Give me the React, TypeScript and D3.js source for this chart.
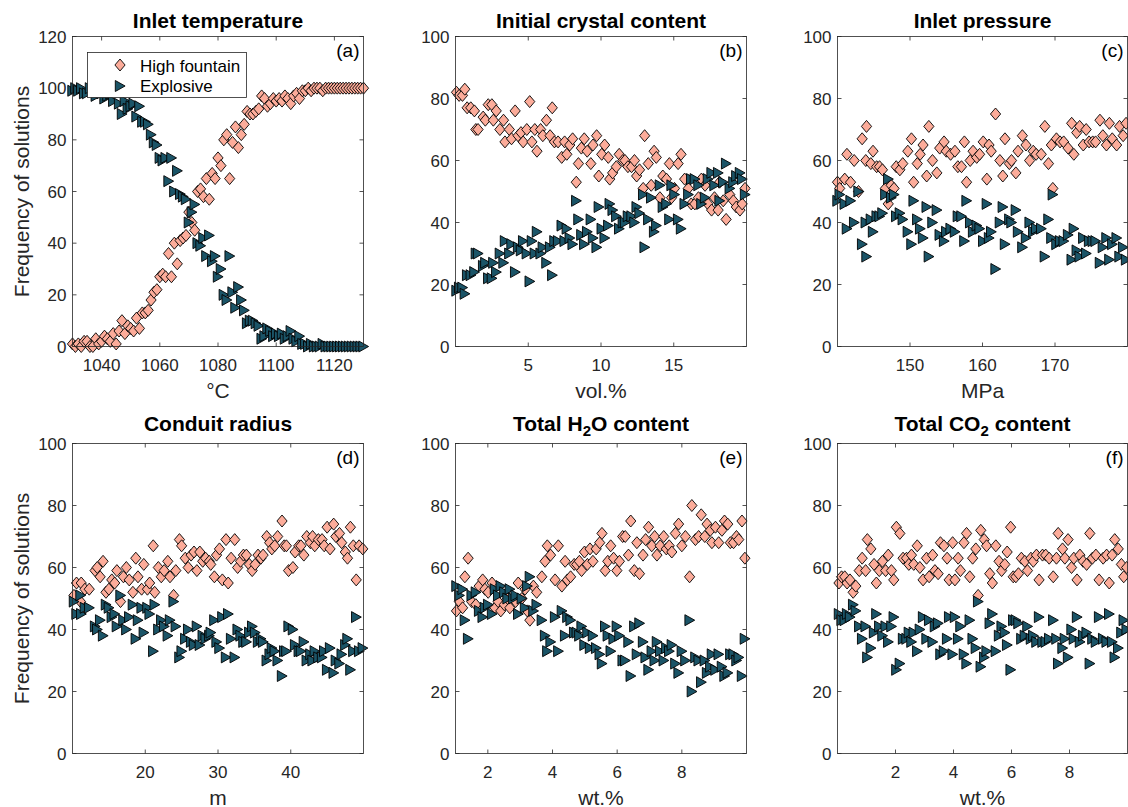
import React from 'react';
import * as d3 from 'd3';

// (a) Inlet temperature, °C
const tempX = [
  1030, 1031, 1032, 1033, 1034, 1035, 1036, 1037, 1038, 1039,
  1040, 1041, 1042, 1043, 1044, 1045, 1046, 1047, 1048, 1049,
  1050, 1051, 1052, 1053, 1054, 1055, 1056, 1057, 1058, 1059,
  1060, 1061, 1062, 1063, 1064, 1065, 1066, 1067, 1068, 1069,
  1070, 1071, 1072, 1073, 1074, 1075, 1076, 1077, 1078, 1079,
  1080, 1081, 1082, 1083, 1084, 1085, 1086, 1087, 1088, 1089,
  1090, 1091, 1092, 1093, 1094, 1095, 1096, 1097, 1098, 1099,
  1100, 1101, 1102, 1103, 1104, 1105, 1106, 1107, 1108, 1109,
  1110, 1111, 1112, 1113, 1114, 1115, 1116, 1117, 1118, 1119,
  1120, 1121, 1122, 1123, 1124, 1125, 1126, 1127, 1128, 1129,
  1130,
];
const tempFountain = [
  1, 0, 1, 0, 2, 2, 0, 0, 3, 1,
  2, 4, 3, 2, 5, 1, 6, 10, 5, 8,
  7, 6, 11, 7, 13, 13, 14, 18, 21, 22,
  27, 28, 27, 36, 27, 40, 32, 41, 42, 43,
  52, 48, 45, 60, 61, 58, 65, 57, 67, 65,
  73, 70, 80, 82, 65, 79, 85, 77, 82, 86,
  91, 90, 90, 91, 92, 97, 96, 93, 94, 96,
  95, 96, 95, 97, 96, 94, 97, 98, 96, 99,
  99, 100, 99, 100, 100, 100, 99, 100, 100, 100,
  100, 100, 100, 100, 100, 100, 100, 100, 100, 100,
  100,
];
const tempExplosive = [
  99, 100, 99, 100, 98, 98, 100, 100, 97, 99,
  98, 96, 97, 98, 95, 99, 94, 90, 95, 92,
  93, 94, 89, 93, 87, 87, 86, 82, 79, 78,
  73, 72, 73, 64, 73, 60, 68, 59, 58, 57,
  48, 52, 55, 40, 39, 42, 35, 43, 33, 35,
  27, 30, 20, 18, 35, 21, 15, 23, 18, 14,
  9, 10, 10, 9, 8, 3, 4, 7, 6, 4,
  5, 4, 5, 3, 4, 6, 3, 2, 4, 1,
  1, 0, 1, 0, 0, 0, 1, 0, 0, 0,
  0, 0, 0, 0, 0, 0, 0, 0, 0, 0,
  0,
];

// (b) Initial crystal content, vol.%
const crystalX = [
  0.07, 0.25, 0.48, 0.64, 0.8, 1.05, 1.3, 1.4, 1.55, 1.9,
  2.05, 2.25, 2.5, 2.6, 2.8, 3.05, 3.3, 3.4, 3.7, 3.85,
  4.1, 4.3, 4.5, 4.65, 4.9, 5.1, 5.25, 5.45, 5.6, 5.85,
  6.0, 6.25, 6.5, 6.65, 6.8, 7.05, 7.3, 7.5, 7.65, 7.85,
  8.05, 8.3, 8.45, 8.65, 8.85, 9.05, 9.3, 9.45, 9.7, 9.85,
  10.05, 10.25, 10.5, 10.6, 10.8, 11.05, 11.25, 11.5, 11.65, 11.85,
  12.1, 12.3, 12.45, 12.65, 12.9, 13.0, 13.25, 13.45, 13.65, 13.8,
  14.05, 14.25, 14.5, 14.7, 14.85, 15.05, 15.3, 15.5, 15.75, 16.0,
  16.2, 16.45, 16.7, 16.9, 17.15, 17.35, 17.6, 17.8, 18.05, 18.15,
  18.4, 18.6, 18.85, 19.1, 19.3, 19.55, 19.7, 19.9,
];
const crystalFountain = [
  82, 81, 81, 83, 77, 77, 76, 70, 70, 74,
  73, 78, 78, 73, 76, 70, 73, 66, 70, 67,
  76, 68, 69, 66, 70, 79, 66, 70, 63, 70,
  68, 73, 68, 77, 66, 66, 61, 66, 62, 65,
  67, 53, 59, 64, 67, 63, 59, 65, 68, 55,
  62, 65, 61, 54, 56, 58, 62, 60, 60, 58,
  58, 60, 55, 57, 51, 68, 59, 52, 63, 61,
  48, 55, 54, 59, 48, 51, 59, 62, 54, 51,
  46, 46, 48, 54, 52, 46, 44, 48, 44, 53,
  47, 41, 49, 47, 45, 44, 46, 51,
];
const crystalExplosive = [
  18, 19, 19, 17, 23, 23, 24, 30, 30, 26,
  27, 22, 22, 27, 24, 30, 27, 34, 30, 33,
  24, 32, 31, 34, 30, 21, 34, 30, 37, 30,
  32, 27, 32, 23, 34, 34, 39, 34, 38, 35,
  33, 47, 41, 36, 33, 37, 41, 35, 32, 45,
  38, 35, 39, 46, 44, 42, 38, 40, 40, 42,
  42, 40, 45, 43, 49, 32, 41, 48, 37, 39,
  52, 45, 46, 41, 52, 49, 41, 38, 46, 49,
  54, 54, 52, 46, 48, 54, 56, 52, 56, 47,
  53, 59, 51, 53, 55, 56, 54, 49,
];

// (c) Inlet pressure, MPa
const pressureX = [
  140.0, 140.3, 141.0, 141.3, 141.8, 142.3, 142.9, 143.4, 143.9, 144.0,
  144.6, 144.9, 145.4, 145.8, 146.2, 146.6, 147.0, 147.4, 147.8, 148.1,
  148.6, 149.0, 149.7, 150.2, 150.5, 151.0, 151.4, 151.8, 152.3, 152.6,
  153.1, 153.7, 154.1, 154.7, 155.0, 155.6, 156.2, 156.6, 157.1, 157.5,
  157.8, 158.3, 158.7, 159.2, 159.6, 160.1, 160.6, 160.9, 161.2, 161.8,
  162.4, 162.8, 163.1, 163.7, 164.0, 164.6, 164.9, 165.5, 166.0, 166.5,
  167.0, 167.4, 168.1, 168.6, 169.1, 169.5, 169.7, 170.2, 170.7, 171.2,
  171.8, 172.3, 172.6, 173.0, 173.4, 173.9, 174.3, 174.7, 175.2, 175.6,
  176.2, 176.6, 177.1, 177.5, 177.9, 178.5, 178.9, 179.4, 179.8,
];
const pressureFountain = [
  53, 51, 54, 62, 53, 60, 50, 67, 60, 71,
  59, 63, 58, 58, 57, 51, 46, 52, 51, 58,
  57, 59, 63, 67, 53, 59, 62, 65, 55, 71,
  60, 56, 64, 66, 63, 62, 63, 58, 58, 66,
  53, 60, 63, 61, 62, 66, 54, 65, 63, 75,
  60, 55, 67, 59, 60, 56, 63, 68, 65, 60,
  63, 62, 62, 71, 59, 65, 51, 67, 66, 66,
  64, 72, 62, 69, 71, 65, 70, 66, 66, 66,
  73, 68, 65, 72, 67, 65, 71, 68, 72,
];
const pressureExplosive = [
  47, 49, 46, 38, 47, 40, 50, 33, 40, 29,
  41, 37, 42, 42, 43, 49, 54, 48, 49, 42,
  43, 41, 37, 33, 47, 41, 38, 35, 45, 29,
  40, 44, 36, 34, 37, 38, 37, 42, 42, 34,
  47, 40, 37, 39, 38, 34, 46, 35, 37, 25,
  40, 45, 33, 41, 40, 44, 37, 32, 35, 40,
  37, 38, 38, 29, 41, 35, 49, 33, 34, 34,
  36, 28, 38, 31, 29, 35, 30, 34, 34, 34,
  27, 32, 35, 28, 33, 35, 29, 32, 28,
];

// (d) Conduit radius, m
const radiusX = [
  10.2, 10.55, 11.1, 11.2, 11.7, 12.3, 13.1, 13.4, 13.8, 14.2,
  14.6, 15.0, 15.4, 15.8, 16.1, 16.6, 17.0, 17.4, 17.8, 18.3,
  18.7, 19.0, 19.5, 19.8, 20.3, 20.6, 21.1, 21.3, 21.8, 22.2,
  22.6, 23.1, 23.4, 23.9, 24.2, 24.7, 25.0, 25.5, 25.9, 26.3,
  26.7, 27.1, 27.5, 27.9, 28.3, 28.8, 29.0, 29.5, 29.8, 30.2,
  30.6, 31.1, 31.4, 31.8, 32.3, 32.7, 33.1, 33.5, 33.9, 34.3,
  34.7, 35.1, 35.5, 35.9, 36.2, 36.7, 37.1, 37.4, 37.8, 38.2,
  38.8, 39.1, 39.4, 39.7, 40.3, 40.6, 41.1, 41.4, 41.8, 42.2,
  42.7, 43.0, 43.3, 43.8, 44.3, 44.6, 45.0, 45.4, 45.9, 46.2,
  46.7, 47.0, 47.5, 47.8, 48.2, 48.6, 49.0, 49.4, 49.9,
];
const radiusFountain = [
  51, 55, 49, 55, 53, 53, 59, 60, 57, 62,
  52, 53, 56, 55, 59, 49, 57, 60, 56, 52,
  63, 57, 53, 61, 53, 55, 67, 52, 60, 57,
  59, 62, 57, 51, 59, 69, 67, 63, 60, 64,
  65, 59, 65, 62, 63, 62, 61, 57, 64, 66,
  56, 69, 55, 63, 69, 60, 62, 64, 64, 61,
  59, 61, 64, 63, 64, 70, 68, 66, 67, 70,
  75, 67, 67, 59, 60, 65, 67, 67, 64, 70,
  68, 70, 67, 69, 69, 67, 73, 66, 74, 70,
  71, 68, 65, 63, 73, 67, 56, 67, 66,
];
const radiusExplosive = [
  49, 45, 51, 45, 47, 47, 41, 40, 43, 38,
  48, 47, 44, 45, 41, 51, 43, 40, 44, 48,
  37, 43, 47, 39, 47, 45, 33, 48, 40, 43,
  41, 38, 43, 49, 41, 31, 33, 37, 40, 36,
  35, 41, 35, 38, 37, 38, 39, 43, 36, 34,
  44, 31, 45, 37, 31, 40, 38, 36, 36, 39,
  41, 39, 36, 37, 36, 30, 32, 34, 33, 30,
  25, 33, 33, 41, 40, 35, 33, 33, 36, 30,
  32, 30, 33, 31, 31, 33, 27, 34, 26, 30,
  29, 32, 35, 37, 27, 33, 44, 33, 34,
];

// (e) Total H2O content, wt.%
const waterX = [
  1.03, 1.12, 1.22, 1.29, 1.39, 1.5, 1.63, 1.73, 1.84, 1.91,
  2.01, 2.13, 2.22, 2.32, 2.4, 2.51, 2.61, 2.68, 2.79, 2.86,
  2.94, 3.05, 3.15, 3.22, 3.3, 3.41, 3.51, 3.67, 3.77, 3.84,
  3.94, 4.08, 4.18, 4.29, 4.39, 4.46, 4.56, 4.67, 4.75, 4.83,
  4.9, 4.99, 5.08, 5.16, 5.25, 5.35, 5.46, 5.53, 5.63, 5.71,
  5.8, 5.89, 5.99, 6.07, 6.17, 6.25, 6.35, 6.42, 6.53, 6.61,
  6.69, 6.8, 6.88, 6.97, 7.07, 7.16, 7.23, 7.33, 7.44, 7.52,
  7.61, 7.69, 7.8, 7.9, 8.0, 8.11, 8.24, 8.31, 8.42, 8.52,
  8.6, 8.71, 8.78, 8.88, 8.93, 9.04, 9.14, 9.24, 9.32, 9.42,
  9.5, 9.6, 9.69, 9.76, 9.86, 9.95,
];
const waterFountain = [
  46, 49, 47, 57, 63, 49, 48, 54, 56, 53,
  52, 55, 47, 49, 46, 48, 50, 47, 50, 49,
  55, 50, 53, 46, 43, 54, 52, 57, 62, 67,
  64, 56, 67, 54, 62, 56, 57, 61, 61, 62,
  59, 65, 61, 66, 62, 66, 68, 71, 59, 62,
  67, 63, 59, 62, 70, 70, 64, 75, 59, 68,
  58, 64, 69, 73, 67, 70, 64, 67, 70, 66,
  67, 65, 71, 74, 67, 70, 57, 80, 69, 70,
  77, 70, 74, 72, 68, 73, 68, 72, 75, 74,
  68, 68, 70, 69, 75, 63,
];
const waterExplosive = [
  54, 51, 53, 43, 37, 51, 52, 46, 44, 47,
  48, 45, 53, 51, 54, 52, 50, 53, 50, 51,
  45, 50, 47, 54, 57, 46, 48, 43, 38, 33,
  36, 44, 33, 46, 38, 44, 43, 39, 39, 38,
  41, 35, 39, 34, 38, 34, 32, 29, 41, 38,
  33, 37, 41, 38, 30, 30, 36, 25, 41, 32,
  42, 36, 31, 27, 33, 30, 36, 33, 30, 34,
  33, 35, 29, 26, 33, 30, 43, 20, 31, 30,
  23, 30, 26, 28, 32, 27, 32, 28, 25, 26,
  32, 32, 30, 31, 25, 37,
];

// (f) Total CO2 content, wt.%
const carbonX = [
  0.05, 0.14, 0.25, 0.33, 0.43, 0.54, 0.63, 0.75, 0.85, 0.97,
  1.03, 1.15, 1.26, 1.34, 1.44, 1.55, 1.66, 1.75, 1.86, 1.94,
  2.03, 2.15, 2.26, 2.38, 2.46, 2.55, 2.63, 2.75, 2.84, 2.95,
  3.07, 3.16, 3.28, 3.36, 3.47, 3.55, 3.67, 3.78, 3.85, 3.97,
  4.05, 4.16, 4.24, 4.36, 4.45, 4.56, 4.66, 4.77, 4.85, 4.94,
  5.06, 5.14, 5.25, 5.34, 5.46, 5.57, 5.66, 5.77, 5.85, 5.97,
  6.06, 6.15, 6.24, 6.34, 6.46, 6.55, 6.67, 6.75, 6.86, 6.95,
  7.07, 7.18, 7.3, 7.44, 7.55, 7.61, 7.76, 7.84, 7.95, 8.07,
  8.15, 8.26, 8.36, 8.47, 8.59, 8.7, 8.79, 8.91, 9.02, 9.16,
  9.28, 9.37, 9.47, 9.56, 9.68, 9.79, 9.87, 9.97,
];
const carbonFountain = [
  55, 57, 57, 55, 56, 52, 54, 59, 63, 59,
  69, 66, 61, 55, 59, 62, 59, 64, 59, 56,
  73, 71, 63, 63, 61, 64, 61, 67, 60, 56,
  63, 57, 64, 59, 58, 68, 67, 63, 56, 68,
  56, 63, 59, 68, 71, 57, 63, 66, 51, 72,
  69, 67, 58, 55, 67, 62, 59, 61, 65, 73,
  57, 57, 58, 63, 62, 59, 63, 62, 64, 56,
  64, 64, 63, 57, 63, 71, 66, 63, 69, 60,
  63, 56, 64, 62, 61, 71, 63, 64, 56, 63,
  64, 55, 64, 69, 66, 61, 57, 60,
];
const carbonExplosive = [
  45, 43, 43, 45, 44, 48, 46, 41, 37, 41,
  31, 34, 39, 45, 41, 38, 41, 36, 41, 44,
  27, 29, 37, 37, 39, 36, 39, 33, 40, 44,
  37, 43, 36, 41, 42, 32, 33, 37, 44, 32,
  44, 37, 41, 32, 29, 43, 37, 34, 49, 28,
  31, 33, 42, 45, 33, 38, 41, 39, 35, 27,
  43, 43, 42, 37, 38, 41, 37, 38, 36, 44,
  36, 36, 37, 43, 37, 29, 34, 37, 31, 40,
  37, 44, 36, 38, 39, 29, 37, 36, 44, 37,
  36, 45, 36, 31, 34, 39, 43, 40,
];

const yTicksTemp = [0, 20, 40, 60, 80, 100, 120];
const yTicks = [0, 20, 40, 60, 80, 100];
const seriesNames = ['High fountain', 'Explosive'];

const FOUNTAIN = '#fcac9a';
const EXPLOSIVE = '#1b5467';
const INK = '#262626';
const FONT = '"Liberation Sans", Arial, Helvetica, sans-serif';

const diamond = 'M0,-6L5.1,0L0,6L-5.1,0Z';
const triangle = 'M-4.7,-5.5L5.1,0L-4.7,5.5Z';

interface PanelSpec {
  title: React.ReactNode;
  tag: string;
  xLabel: string;
  xDomain: [number, number];
  xTicks: number[];
  yMax: number;
  yTicks: number[];
  x: number[];
  fountain: number[];
  explosive: number[];
  left: number;
  top: number;
  width: number;
  titleDy: number;
  yLabel?: boolean;
  legend?: boolean;
}

const sub = (a: string, s: string, b: string) => (
  <>
    {a}
    <tspan dy={5} fontSize={15}>{s}</tspan>
    <tspan dy={-5}>{b}</tspan>
  </>
);

const H = 310;

const panels: PanelSpec[] = [
  { title: 'Inlet temperature', tag: '(a)', xLabel: '°C', xDomain: [1030, 1130], xTicks: [1040, 1060, 1080, 1100, 1120], yMax: 120, yTicks: yTicksTemp, x: tempX, fountain: tempFountain, explosive: tempExplosive, left: 72.5, top: 36.5, width: 291, titleDy: -8.5, yLabel: true, legend: true },
  { title: 'Initial crystal content', tag: '(b)', xLabel: 'vol.%', xDomain: [0, 20], xTicks: [5, 10, 15], yMax: 100, yTicks, x: crystalX, fountain: crystalFountain, explosive: crystalExplosive, left: 455.5, top: 36.5, width: 291, titleDy: -8.5 },
  { title: 'Inlet pressure', tag: '(c)', xLabel: 'MPa', xDomain: [140, 180], xTicks: [150, 160, 170], yMax: 100, yTicks, x: pressureX, fountain: pressureFountain, explosive: pressureExplosive, left: 837.5, top: 36.5, width: 290, titleDy: -8.5 },
  { title: 'Conduit radius', tag: '(d)', xLabel: 'm', xDomain: [10, 50], xTicks: [20, 30, 40], yMax: 100, yTicks, x: radiusX, fountain: radiusFountain, explosive: radiusExplosive, left: 72.5, top: 443.5, width: 291, titleDy: -13, yLabel: true },
  { title: sub('Total H', '2', 'O content'), tag: '(e)', xLabel: 'wt.%', xDomain: [1, 10], xTicks: [2, 4, 6, 8], yMax: 100, yTicks, x: waterX, fountain: waterFountain, explosive: waterExplosive, left: 455.5, top: 443.5, width: 291, titleDy: -13 },
  { title: sub('Total CO', '2', ' content'), tag: '(f)', xLabel: 'wt.%', xDomain: [0, 10], xTicks: [2, 4, 6, 8], yMax: 100, yTicks, x: carbonX, fountain: carbonFountain, explosive: carbonExplosive, left: 837.5, top: 443.5, width: 290, titleDy: -13 },
];

const Panel: React.FC<{ spec: PanelSpec }> = ({ spec }) => {
  const W = spec.width;
  const x = d3.scaleLinear().domain(spec.xDomain).range([0, W]);
  const y = d3.scaleLinear().domain([0, spec.yMax]).range([H, 0]);
  const tl = 4;

  return (
    <g transform={`translate(${spec.left},${spec.top})`} fontFamily={FONT}>
      <rect width={W} height={H} fill="#fff" />

      {spec.xTicks.map((t) => (
        <g key={`x${t}`}>
          <line x1={x(t)} x2={x(t)} y1={H} y2={H - tl} stroke={INK} strokeWidth={0.8} />
          <line x1={x(t)} x2={x(t)} y1={0} y2={tl} stroke={INK} strokeWidth={0.8} />
          <text x={x(t)} y={H + 24} textAnchor="middle" fontSize={17} fill={INK}>{t}</text>
        </g>
      ))}
      {spec.yTicks.map((t) => (
        <g key={`y${t}`}>
          <line x1={0} x2={tl} y1={y(t)} y2={y(t)} stroke={INK} strokeWidth={0.8} />
          <line x1={W} x2={W - tl} y1={y(t)} y2={y(t)} stroke={INK} strokeWidth={0.8} />
          <text x={-6} y={y(t)} dy="0.36em" textAnchor="end" fontSize={17} fill={INK}>{t}</text>
        </g>
      ))}

      {spec.x.map((v, i) => (
        <path key={`f${i}`} d={diamond} transform={`translate(${x(v)},${y(spec.fountain[i])})`}
          fill={FOUNTAIN} stroke="#000" strokeWidth={0.9} />
      ))}
      {spec.x.map((v, i) => (
        <path key={`e${i}`} d={triangle} transform={`translate(${x(v)},${y(spec.explosive[i])})`}
          fill={EXPLOSIVE} stroke="#000" strokeWidth={0.9} />
      ))}

      <rect width={W} height={H} fill="none" stroke={INK} strokeWidth={0.8} />

      <text x={W - 4} y={20} textAnchor="end" fontSize={19} fill="#000">{spec.tag}</text>
      <text x={W / 2} y={spec.titleDy} textAnchor="middle" fontSize={21} fontWeight="bold" fill="#000">{spec.title}</text>
      <text x={W / 2} y={H + 51} textAnchor="middle" fontSize={21} fill={INK}>{spec.xLabel}</text>
      {spec.yLabel && (
        <text transform={`translate(-44,${H / 2}) rotate(-90)`} textAnchor="middle" fontSize={21} fill={INK}>
          Frequency of solutions
        </text>
      )}

      {spec.legend && (
        <g transform="translate(15,16)">
          <rect width={159} height={45} fill="#fff" stroke={INK} strokeWidth={0.8} />
          <path d={diamond} transform="translate(32.5,12.5)" fill={FOUNTAIN} stroke="#000" strokeWidth={0.9} />
          <path d={triangle} transform="translate(32.5,33.5)" fill={EXPLOSIVE} stroke="#000" strokeWidth={0.9} />
          <text x={52.5} y={19} fontSize={17} fill="#000">{seriesNames[0]}</text>
          <text x={52.5} y={39.5} fontSize={17} fill="#000">{seriesNames[1]}</text>
        </g>
      )}
    </g>
  );
};

const App: React.FC = () => (
  <svg width={1128} height={807} style={{ position: 'absolute', left: 0, top: 0, background: '#fff' }}>
    {panels.map((p) => (
      <Panel key={p.tag} spec={p} />
    ))}
  </svg>
);

export default App;
